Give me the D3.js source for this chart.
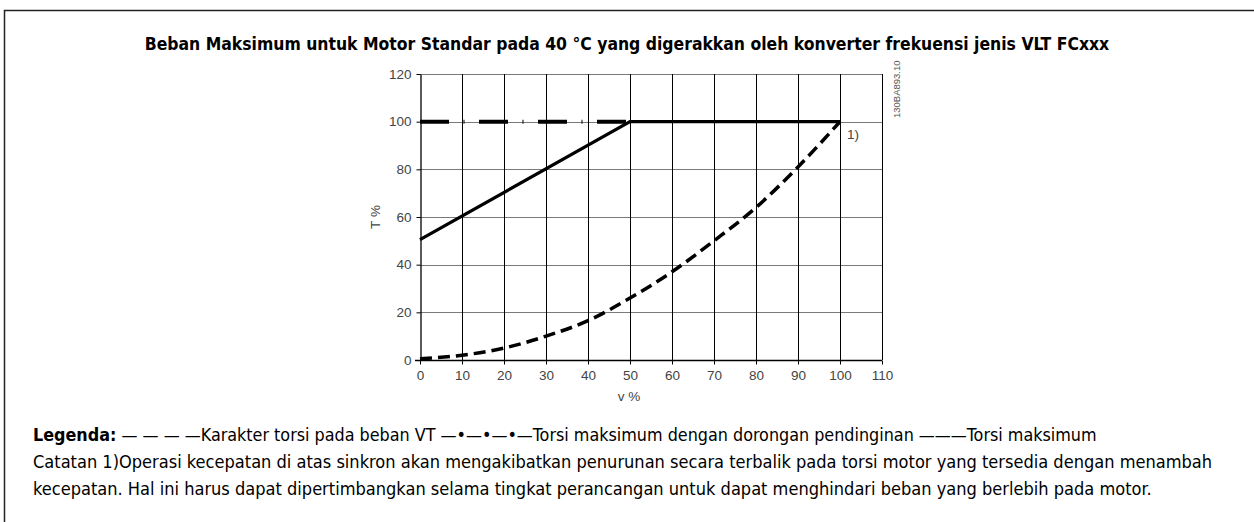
<!DOCTYPE html>
<html>
<head>
<meta charset="utf-8">
<script src="https://cdn.jsdelivr.net/npm/d3@7"></script>
<style>
  html, body { margin: 0; padding: 0; background: #fff; }
  svg { display: block; }
</style>
</head>
<body>
<svg id="chart" width="1254" height="522"></svg>
<script>
// Speed axis (v %) and torque axis (T %)
const xTicks = [0, 10, 20, 30, 40, 50, 60, 70, 80, 90, 100, 110];
const yTicks = [0, 20, 40, 60, 80, 100, 120];

// Maximum torque (solid)
const maxTorqueV = [0, 50, 100];
const maxTorqueT = [50.5, 100, 100];

// Maximum torque with forced cooling (dash-dot)
const forcedV = [0, 50];
const forcedT = [100, 100];

// Torque characteristic for VT load (dashed)
const vtV = [0, 10, 20, 30, 40, 50, 60, 70, 80, 90, 100];
const vtT = [0.5, 2, 5, 10, 16.5, 26, 37, 50, 64, 81, 100];

const title = "Beban Maksimum untuk Motor Standar pada 40 °C yang digerakkan oleh konverter frekuensi jenis VLT FCxxx";
const legendLabel = "Legenda:";
const legendText = " \u2014 \u2014 \u2014 \u2014Karakter torsi pada beban VT \u2014\u2022\u2014\u2022\u2014\u2022\u2014Torsi maksimum dengan dorongan pendinginan \u2014\u2014\u2014Torsi maksimum";
const noteLines = [
  "Catatan 1)Operasi kecepatan di atas sinkron akan mengakibatkan penurunan secara terbalik pada torsi motor yang tersedia dengan menambah",
  "kecepatan. Hal ini harus dapat dipertimbangkan selama tingkat perancangan untuk dapat menghindari beban yang berlebih pada motor."
];
const docCode = "130BA893.10";
const noteMark = "1)";

const svg = d3.select("#chart");
const textFont = "Tahoma, 'DejaVu Sans Condensed', 'DejaVu Sans', sans-serif";
const axisFont = "'Liberation Sans', Arial, sans-serif";

// Frame
svg.append("path")
  .attr("d", "M4.5,522 L4.5,10.5 L1254,10.5")
  .attr("fill", "none").attr("stroke", "#222").attr("stroke-width", 1.5);

// Font size that makes a text element span the given width
function sizeForWidth(sel, target) {
  const size = parseFloat(sel.attr("font-size"));
  const w = sel.node().getComputedTextLength();
  return +(size * target / w).toFixed(2);
}

// Title
const t = svg.append("text")
  .attr("x", 627).attr("y", 50)
  .attr("text-anchor", "middle")
  .attr("font-family", textFont).attr("font-weight", "bold")
  .attr("font-size", 13).attr("fill", "#000")
  .text(title);
t.attr("font-size", sizeForWidth(t, 965));

// Plot area
const x = d3.scaleLinear().domain([0, 110]).range([420, 882]);
const y = d3.scaleLinear().domain([0, 120]).range([360, 74]);

const g = svg.append("g");

// Horizontal grid (grey)
g.append("g").selectAll("line").data(yTicks.filter(d => d > 0)).join("line")
  .attr("x1", x(0)).attr("x2", x(110))
  .attr("y1", d => Math.round(y(d)) + 0.5).attr("y2", d => Math.round(y(d)) + 0.5)
  .attr("stroke", "#7a7a7a").attr("stroke-width", 1);

// Vertical grid (black)
g.append("g").selectAll("line").data(xTicks.filter(d => d > 0)).join("line")
  .attr("x1", d => Math.round(x(d)) + 0.5).attr("x2", d => Math.round(x(d)) + 0.5)
  .attr("y1", y(120)).attr("y2", y(0))
  .attr("stroke", "#000").attr("stroke-width", 1);

// Axes
const xAxis = d3.axisBottom(x).tickValues(xTicks).tickSize(4).tickSizeOuter(0).tickFormat(d3.format("d"));
const yAxis = d3.axisLeft(y).tickValues(yTicks).tickSize(4).tickSizeOuter(0).tickFormat(d3.format("d"));

const gx = g.append("g").attr("transform", `translate(0,${Math.round(y(0)) + 0.5})`).call(xAxis);
const gy = g.append("g").attr("transform", `translate(${Math.round(x(0)) + 0.5},0)`).call(yAxis);

[gx, gy].forEach(a => {
  a.attr("font-family", axisFont).attr("font-size", 13.5);
  a.select(".domain").attr("stroke", "#000").attr("stroke-width", 1.3);
  a.selectAll(".tick line").attr("stroke", "#000");
  a.selectAll(".tick text").attr("fill", "#444");
});
// extend x axis line slightly left of the y axis
gx.select(".domain").attr("d", `M${x(0) - 5},0H${x(110)}`);
gx.selectAll(".tick text").attr("dy", "0.95em");
gy.selectAll(".tick text").attr("dx", "-0.15em");

// Axis titles
svg.append("text")
  .attr("x", 629).attr("y", 401).attr("text-anchor", "middle")
  .attr("font-family", axisFont).attr("font-size", 13.5).attr("fill", "#444")
  .text("v %");
svg.append("text")
  .attr("transform", `translate(380,${y(60)}) rotate(-90)`).attr("text-anchor", "middle")
  .attr("font-family", axisFont).attr("font-size", 13.5).attr("fill", "#444")
  .text("T %");

// Document code
svg.append("text")
  .attr("transform", `translate(900,118) rotate(-90)`).attr("text-anchor", "start")
  .attr("font-family", axisFont).attr("font-size", 9.5).attr("fill", "#555")
  .text(docCode);

// Curves
const line = d3.line().x(d => x(d[0])).y(d => y(d[1]));
const curve = d3.line().x(d => x(d[0])).y(d => y(d[1])).curve(d3.curveMonotoneX);

g.append("path")
  .datum(vtV.map((v, i) => [v, vtT[i]]))
  .attr("d", curve)
  .attr("fill", "none").attr("stroke", "#000").attr("stroke-width", 3.5)
  .attr("stroke-dasharray", "12,6");

g.append("path")
  .datum(forcedV.map((v, i) => [v, forcedT[i]]))
  .attr("d", line)
  .attr("fill", "none").attr("stroke", "#000").attr("stroke-width", 4)
  .attr("stroke-dasharray", "29,14.5,1,14.5");

g.append("path")
  .datum(maxTorqueV.map((v, i) => [v, maxTorqueT[i]]))
  .attr("d", line)
  .attr("fill", "none").attr("stroke", "#000").attr("stroke-width", 3.2)
  .attr("stroke-linejoin", "miter");

// Note marker at synchronous speed
svg.append("text")
  .attr("x", x(100) + 7).attr("y", y(100) + 17)
  .attr("font-family", axisFont).attr("font-size", 13.5).attr("fill", "#444")
  .text(noteMark);

// Legend and note
const leg = svg.append("text")
  .attr("x", 33).attr("y", 441)
  .attr("font-family", textFont).attr("font-size", 14).attr("fill", "#000");
leg.append("tspan").attr("font-weight", "bold").text(legendLabel);
leg.append("tspan").text(legendText);
leg.attr("font-size", sizeForWidth(leg, 1065));

const n1 = svg.append("text")
  .attr("x", 33).attr("y", 468)
  .attr("font-family", textFont).attr("font-size", 14).attr("fill", "#000")
  .text(noteLines[0]);
const noteSize = sizeForWidth(n1, 1180);
n1.attr("font-size", noteSize);
svg.append("text")
  .attr("x", 33).attr("y", 495)
  .attr("font-family", textFont).attr("font-size", noteSize).attr("fill", "#000")
  .text(noteLines[1]);
</script>
</body>
</html>
